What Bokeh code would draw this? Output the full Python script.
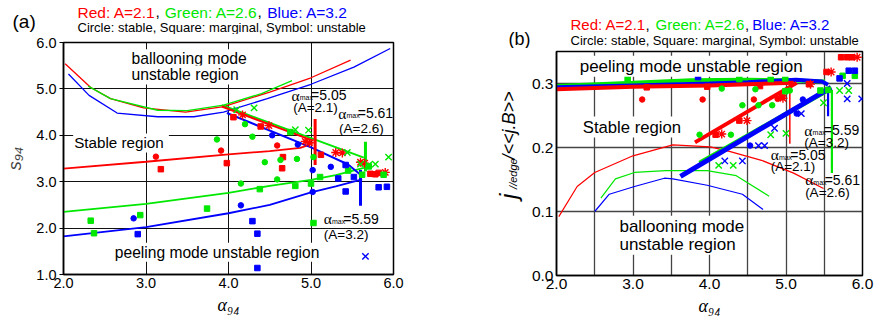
import math
from bokeh.plotting import figure
from bokeh.models import Label, FixedTicker, Range1d, NumeralTickFormatter
from bokeh.layouts import row, column
from bokeh.embed import file_html
from bokeh.resources import INLINE

RED = "#ff0000"
GREEN = "#00e800"
BLUE = "#0000ff"
SANS = "Liberation Sans"
SERIF = "Liberation Serif"

# ---------------- panel (a) data: s94 vs alpha94 ----------------
a_x_ticks = [2.0, 3.0, 4.0, 5.0, 6.0]
a_y_ticks = [1.0, 2.0, 3.0, 4.0, 5.0, 6.0]

a_red_up_x = [2.02, 2.33, 2.57, 2.97, 3.48, 3.94, 4.50, 5.00, 5.48]
a_red_up_y = [5.54, 5.03, 4.79, 4.59, 4.50, 4.62, 4.93, 5.24, 5.62]
a_grn_up_x = [2.30, 2.57, 3.14, 3.50, 3.94, 4.40, 4.77]
a_grn_up_y = [5.06, 4.79, 4.54, 4.53, 4.65, 4.90, 5.18]
a_blu_up_x = [2.06, 2.31, 2.65, 3.14, 3.58, 3.94, 4.47, 5.00, 5.52, 5.96]
a_blu_up_y = [5.32, 4.86, 4.48, 4.40, 4.40, 4.50, 4.79, 5.10, 5.47, 5.87]

a_red_lo_x = [2.00, 3.00, 4.00, 4.50, 4.87, 5.02]
a_red_lo_y = [3.28, 3.43, 3.59, 3.66, 3.73, 3.82]
a_grn_lo_x = [2.00, 3.00, 4.00, 4.50, 5.00, 5.30, 5.64]
a_grn_lo_y = [2.35, 2.52, 2.76, 2.91, 3.04, 3.14, 3.30]
a_blu_lo_x = [2.00, 3.00, 4.00, 4.50, 5.00, 5.30, 5.62]
a_blu_lo_y = [1.82, 2.02, 2.32, 2.50, 2.77, 2.90, 3.05]

a_red_dec_x = [3.92, 5.03]
a_red_dec_y = [4.62, 3.88]
a_grn_dec_x = [3.92, 5.64]
a_grn_dec_y = [4.65, 3.52]
a_blu_dec_x = [3.98, 5.00, 5.45, 5.60]
a_blu_dec_y = [4.48, 3.74, 3.37, 3.15]

a_vbar_x = [5.05, 5.66, 5.60]
a_vbar_lo = [3.36, 3.22, 2.48]
a_vbar_hi = [4.35, 3.86, 3.25]

a_red_circ_x = [3.12, 3.91, 4.59]
a_red_circ_y = [3.54, 3.67, 3.78]
a_red_sq_x = [3.18, 3.98, 4.65, 4.66, 4.06, 4.39, 5.12, 5.72, 5.78, 5.82]
a_red_sq_y = [3.27, 3.40, 3.29, 3.53, 4.39, 4.19, 3.58, 3.17, 3.16, 3.19]
a_red_sym_x = [4.17, 4.49, 4.93, 4.98, 5.30, 5.38, 5.60, 5.65, 5.90]
a_red_sym_y = [4.44, 4.21, 3.87, 3.84, 3.63, 3.62, 3.42, 3.40, 3.20]

a_grn_circ_x = [3.86, 4.20, 4.29, 4.44, 4.63, 4.83, 4.15, 4.59, 5.03]
a_grn_circ_y = [3.91, 4.24, 3.97, 3.42, 3.47, 3.49, 2.96, 3.05, 3.53]
a_grn_sq_x = [2.33, 2.37, 2.93, 3.74, 4.38, 4.81, 5.00, 5.11, 5.03, 4.75, 5.45, 5.62, 5.88, 5.70]
a_grn_sq_y = [2.16, 1.89, 2.28, 2.42, 2.84, 2.91, 2.96, 3.10, 2.11, 4.07, 3.24, 3.15, 3.15, 3.33]
a_grn_sym_x = [4.10, 4.31, 4.81, 4.97, 5.44, 5.60, 5.70, 5.78, 5.94]
a_grn_sym_y = [4.55, 4.59, 4.12, 4.11, 3.63, 3.38, 3.36, 3.38, 3.53]

a_blu_circ_x = [2.85, 4.15, 4.53, 4.84, 5.02, 5.02, 5.24]
a_blu_circ_y = [2.21, 2.49, 4.00, 3.80, 3.25, 2.78, 3.32]
a_blu_sq_x = [2.90, 4.29, 4.35, 4.35, 5.33, 5.42, 5.52, 5.42, 5.82, 5.92]
a_blu_sq_y = [1.87, 2.15, 1.88, 1.14, 3.07, 2.79, 3.10, 3.36, 2.88, 2.89]
a_blu_sym_x = [5.66]
a_blu_sym_y = [1.39]

# ---------------- panel (b) data: j_edge/<<j.B>> vs alpha94 ----------------
b_x_ticks = [2.0, 3.0, 4.0, 5.0, 6.0]
b_x_grid = [2.5, 3.0, 3.5, 4.0, 4.5, 5.0, 5.5]
b_y_ticks = [0.0, 0.1, 0.2, 0.3]
b_y_grid = [0.1, 0.2, 0.3]

b_red_up_x = [2.00, 3.00, 4.00, 4.50, 5.10]
b_red_up_y = [0.291, 0.295, 0.297, 0.299, 0.301]
b_grn_up_x = [2.00, 3.00, 3.76, 4.50, 5.00, 5.51]
b_grn_up_y = [0.296, 0.301, 0.305, 0.306, 0.305, 0.303]
b_blu_up_x = [2.00, 3.00, 4.00, 4.50, 5.13, 5.47, 5.55]
b_blu_up_y = [0.294, 0.297, 0.300, 0.302, 0.306, 0.303, 0.298]

b_red_dg_x = [3.81, 5.14]
b_red_dg_y = [0.208, 0.301]
b_grn_dg_x = [3.87, 5.57]
b_grn_dg_y = [0.176, 0.291]
b_blu_dg_x = [3.62, 5.59]
b_blu_dg_y = [0.155, 0.294]

b_vbar_x = [5.05, 5.60, 5.55]
b_vbar_lo = [0.206, 0.160, 0.249]
b_vbar_hi = [0.299, 0.290, 0.294]

b_red_lo_x = [2.03, 2.27, 2.50, 3.00, 3.52, 4.01, 4.26, 4.68, 5.10, 5.49]
b_red_lo_y = [0.092, 0.139, 0.161, 0.187, 0.204, 0.201, 0.194, 0.180, 0.160, 0.136]
b_grn_lo_x = [2.58, 2.77, 3.02, 3.43, 3.97, 4.35, 4.78]
b_grn_lo_y = [0.121, 0.151, 0.161, 0.164, 0.164, 0.156, 0.124]
b_blu_lo_x = [2.50, 2.69, 3.02, 3.41, 3.52, 3.97, 4.43, 4.70]
b_blu_lo_y = [0.100, 0.127, 0.139, 0.152, 0.151, 0.141, 0.127, 0.103]

b_red_circ_x = [3.12, 3.91, 4.58, 4.89]
b_red_circ_y = [0.275, 0.275, 0.275, 0.276]
b_red_sq_x = [3.18, 3.97, 4.66, 4.95, 5.30, 4.39, 4.08, 5.53, 5.72, 5.80, 5.86]
b_red_sq_y = [0.294, 0.295, 0.296, 0.279, 0.299, 0.242, 0.220, 0.318, 0.341, 0.341, 0.341]
b_red_sym_x = [4.16, 4.49, 4.96, 5.32, 5.59, 5.93]
b_red_sym_y = [0.221, 0.242, 0.277, 0.299, 0.318, 0.341]

b_grn_circ_x = [4.16, 3.87, 4.28, 4.60, 4.64, 4.82, 5.05, 4.43]
b_grn_circ_y = [0.292, 0.220, 0.220, 0.291, 0.266, 0.266, 0.289, 0.266]
b_grn_sq_x = [2.93, 4.39, 4.80, 4.99, 5.45, 5.74, 5.90, 4.99, 5.55]
b_grn_sq_y = [0.308, 0.307, 0.307, 0.308, 0.289, 0.312, 0.312, 0.288, 0.290]
b_grn_sym_x = [4.80, 5.00, 4.12, 4.31, 5.49, 5.82, 5.70]
b_grn_sym_y = [0.220, 0.222, 0.172, 0.172, 0.270, 0.289, 0.289]

b_blu_circ_x = [5.22, 5.14, 4.53]
b_blu_circ_y = [0.275, 0.253, 0.203]
b_blu_sq_x = [3.85, 5.82, 5.90, 5.70]
b_blu_sq_y = [0.310, 0.320, 0.320, 0.308]
b_blu_sym_x = [5.80, 5.80, 5.99, 5.20, 4.64, 4.72, 4.85, 4.20, 4.43]
b_blu_sym_y = [0.300, 0.276, 0.276, 0.253, 0.203, 0.203, 0.230, 0.179, 0.179]

# header / legend texts
hdr_parts = ["Red: A=2.1", ",", "Green: A=2.6", ",", "Blue: A=3.2"]
hdr_colors = [RED, "black", GREEN, "black", BLUE]
hdr_line2 = "Circle: stable, Square: marginal, Symbol: unstable"


def add_text(p, x, y, text, size, color="black", align="left", font=SANS,
             style="normal", angle=0.0, bg=None, baseline="middle", dx=0, dy=0):
    kw = dict(x=x, y=y, text=text, text_font_size=f"{size}px", text_color=color,
              text_align=align, text_baseline=baseline, text_font=font,
              text_font_style=style, angle=angle, x_offset=dx, y_offset=dy)
    if bg is not None:
        kw.update(background_fill_color=bg, background_fill_alpha=1.0, padding=1)
    p.add_layout(Label(**kw))


def amax_label(p, x, y, num, size):
    add_text(p, x, y, "α", size + 1.5, font=SERIF)
    add_text(p, x, y, "max", size * 0.5, dx=8.2, dy=-2.5)
    add_text(p, x, y, "=" + num, size, dx=19.5)


def blank(w, h):
    f = figure(width=w, height=h, x_range=Range1d(0, w), y_range=Range1d(0, h),
               output_backend="svg", toolbar_location=None,
               x_axis_location=None, y_axis_location=None, min_border=0,
               frame_align=False)
    f.grid.visible = False
    f.outline_line_color = None
    f.background_fill_color = "white"
    f.border_fill_color = "white"
    return f


def style_axes(p, xt, yt, tick_size, grid_color, grid_width):
    p.xaxis.ticker = FixedTicker(ticks=xt)
    p.yaxis.ticker = FixedTicker(ticks=yt)
    p.xaxis.formatter = NumeralTickFormatter(format="0.0")
    p.yaxis.formatter = NumeralTickFormatter(format="0.0")
    for ax in (p.xaxis[0], p.yaxis[0]):
        ax.major_label_text_font = SANS
        ax.major_label_text_font_size = tick_size
        ax.major_label_text_color = "black"
        ax.axis_line_color = "black"
        ax.axis_line_width = 1.5
        ax.minor_tick_line_color = None
        ax.major_tick_in = 0
        ax.major_label_standoff = 3
        ax.axis_label_standoff = 1
    p.outline_line_color = "black"
    p.outline_line_width = 1.5
    p.xgrid.grid_line_color = grid_color
    p.ygrid.grid_line_color = grid_color
    p.xgrid.grid_line_width = grid_width
    p.ygrid.grid_line_width = grid_width
    p.background_fill_color = "white"
    p.border_fill_color = "white"


# ================= panel (a) =================
ha = blank(440, 34)
a_hdr_x = [77, 155, 164.3, 257, 266.7]
for t, c, xx in zip(hdr_parts, hdr_colors, a_hdr_x):
    add_text(ha, xx, 22.5, t, 15.5, color=c)
add_text(ha, 77, 7.5, hdr_line2, 13)
add_text(ha, 12, 13, "(a)", 19)

pa = figure(width=440, height=260, x_range=Range1d(2.0, 6.0), y_range=Range1d(1.0, 6.0),
            output_backend="svg", toolbar_location=None, frame_align=False,
            min_border_left=63, min_border_right=47, min_border_top=8, min_border_bottom=20)
style_axes(pa, a_x_ticks, a_y_ticks, "14.5px", "#111111", 1.0)
pa.xgrid.ticker = FixedTicker(ticks=[3.0, 4.0, 5.0])
pa.ygrid.ticker = FixedTicker(ticks=[2.0, 3.0, 4.0, 5.0])
pa.yaxis.major_tick_out = 4
pa.xaxis.major_tick_out = 0
pa.yaxis.axis_label = "s₉₄"
pa.yaxis.axis_label_text_font = SANS
pa.yaxis.axis_label_text_font_style = "italic"
pa.yaxis.axis_label_text_font_size = "18px"
pa.yaxis.axis_label_standoff = 8

for xs, ys, c in ((a_red_up_x, a_red_up_y, RED), (a_grn_up_x, a_grn_up_y, GREEN),
                  (a_blu_up_x, a_blu_up_y, BLUE)):
    pa.line(xs, ys, line_color=c, line_width=1.3)
for xs, ys, c in ((a_red_lo_x, a_red_lo_y, RED), (a_grn_lo_x, a_grn_lo_y, GREEN),
                  (a_blu_lo_x, a_blu_lo_y, BLUE)):
    pa.line(xs, ys, line_color=c, line_width=1.8)
for xs, ys, c in ((a_grn_dec_x, a_grn_dec_y, GREEN), (a_red_dec_x, a_red_dec_y, RED),
                  (a_blu_dec_x, a_blu_dec_y, BLUE)):
    pa.line(xs, ys, line_color=c, line_width=2.0)
pa.segment(x0=a_vbar_x, y0=a_vbar_lo, x1=a_vbar_x, y1=a_vbar_hi,
           line_color=[RED, GREEN, BLUE], line_width=3)

for cx, cy, sx, sy, mx, my, c, mk in (
        (a_red_circ_x, a_red_circ_y, a_red_sq_x, a_red_sq_y, a_red_sym_x, a_red_sym_y, RED, "asterisk"),
        (a_grn_circ_x, a_grn_circ_y, a_grn_sq_x, a_grn_sq_y, a_grn_sym_x, a_grn_sym_y, GREEN, "x"),
        (a_blu_circ_x, a_blu_circ_y, a_blu_sq_x, a_blu_sq_y, a_blu_sym_x, a_blu_sym_y, BLUE, "x")):
    pa.scatter(cx, cy, marker="circle", size=5.5, color=c)
    pa.scatter(sx, sy, marker="square", size=5.5, color=c)
    pa.scatter(mx, my, marker=mk, size=9, line_color=c, line_width=1.4)

add_text(pa, 2.812, 5.652, "ballooning mode", 15.7, bg="white")
add_text(pa, 2.812, 5.30, "unstable region", 15.7, bg="white")
add_text(pa, 2.117, 3.835, "Stable  region", 15.2, bg="white")
add_text(pa, 2.61, 1.48, "peeling mode unstable region", 15.6, bg="white")
amax_label(pa, 4.764, 4.86, "5.05", 14)
add_text(pa, 4.784, 4.59, "(A=2.1)", 13.5)
amax_label(pa, 5.33, 4.48, "5.61", 14)
add_text(pa, 5.34, 4.14, "(A=2.6)", 13.5)
amax_label(pa, 5.155, 2.20, "5.59", 14)
add_text(pa, 5.155, 1.86, "(A=3.2)", 13.5)

fa = blank(440, 22)
add_text(fa, 228, 11.5, "α₉₄", 18, font=SERIF, style="italic", align="center", baseline="middle")

# ================= panel (b) =================
hb = blank(434, 48)
b_hdr_x = [130, 205, 215, 304.5, 311.7]
for t, c, xx in zip(hdr_parts, hdr_colors, b_hdr_x):
    add_text(hb, xx, 24, t, 15, color=c)
add_text(hb, 130, 8.5, hdr_line2, 13)
add_text(hb, 68, 10, "(b)", 18)

lb = blank(84, 247)
add_text(lb, 68, 96.5, "j", 24, style="italic", angle=math.pi / 2)
add_text(lb, 72, 106.6, "//edge", 11, style="italic", angle=math.pi / 2)
add_text(lb, 68, 136, "/<<j.B>>", 18, style="italic", angle=math.pi / 2)

pb = figure(width=350, height=247, x_range=Range1d(2.0, 6.0), y_range=Range1d(0.0, 0.35),
            output_backend="svg", toolbar_location=None, frame_align=False,
            min_border_left=32, min_border_right=12, min_border_top=3, min_border_bottom=20)
style_axes(pb, b_x_ticks, b_y_ticks, "15.5px", "#444444", 1.3)
pb.xgrid.ticker = FixedTicker(ticks=b_x_grid)
pb.ygrid.ticker = FixedTicker(ticks=b_y_grid)
pb.xaxis.major_tick_out = 0
pb.yaxis.major_tick_out = 0

for xs, ys, c in ((b_red_lo_x, b_red_lo_y, RED), (b_grn_lo_x, b_grn_lo_y, GREEN),
                  (b_blu_lo_x, b_blu_lo_y, BLUE)):
    pb.line(xs, ys, line_color=c, line_width=1.2)
pb.segment(x0=b_vbar_x, y0=b_vbar_lo, x1=b_vbar_x, y1=b_vbar_hi,
           line_color=[RED, GREEN, BLUE], line_width=[1.5, 2.2, 2.2])
for xs, ys, c in ((b_grn_up_x, b_grn_up_y, GREEN), (b_blu_up_x, b_blu_up_y, BLUE),
                  (b_red_up_x, b_red_up_y, RED)):
    pb.line(xs, ys, line_color=c, line_width=4)
pb.line(b_red_dg_x, b_red_dg_y, line_color=RED, line_width=4)
pb.line(b_grn_dg_x, b_grn_dg_y, line_color=GREEN, line_width=4.5)
pb.line(b_blu_dg_x, b_blu_dg_y, line_color=BLUE, line_width=5)

for cx, cy, sx, sy, mx, my, c, mk in (
        (b_red_circ_x, b_red_circ_y, b_red_sq_x, b_red_sq_y, b_red_sym_x, b_red_sym_y, RED, "asterisk"),
        (b_grn_circ_x, b_grn_circ_y, b_grn_sq_x, b_grn_sq_y, b_grn_sym_x, b_grn_sym_y, GREEN, "x"),
        (b_blu_circ_x, b_blu_circ_y, b_blu_sq_x, b_blu_sq_y, b_blu_sym_x, b_blu_sym_y, BLUE, "x")):
    pb.scatter(cx, cy, marker="circle", size=5.5, color=c)
    pb.scatter(sx, sy, marker="square", size=5.5, color=c)
    pb.scatter(mx, my, marker=mk, size=9, line_color=c, line_width=1.4)

add_text(pb, 2.29, 0.327, "peeling mode unstable region", 17, bg="white")
add_text(pb, 2.33, 0.232, "Stable  region", 16.7, bg="white")
add_text(pb, 2.81, 0.077, "ballooning mode", 17, bg="white")
add_text(pb, 2.81, 0.049, "unstable region", 17, bg="white")
amax_label(pb, 5.24, 0.227, "5.59", 14)
add_text(pb, 5.24, 0.208, "(A=3.2)", 13.5)
amax_label(pb, 4.80, 0.189, "5.05", 14)
add_text(pb, 4.80, 0.170, "(A=2.1)", 13.5)
amax_label(pb, 5.25, 0.150, "5.61", 14)
add_text(pb, 5.25, 0.130, "(A=2.6)", 13.5)

fb = blank(434, 21)
add_text(fb, 269, 10.5, "α₉₄", 18, font=SERIF, style="italic", align="center", baseline="middle")

layout = row(column(ha, pa, fa), column(hb, row(lb, pb), fb))
open("out.html", "w").write(file_html(layout, INLINE))
